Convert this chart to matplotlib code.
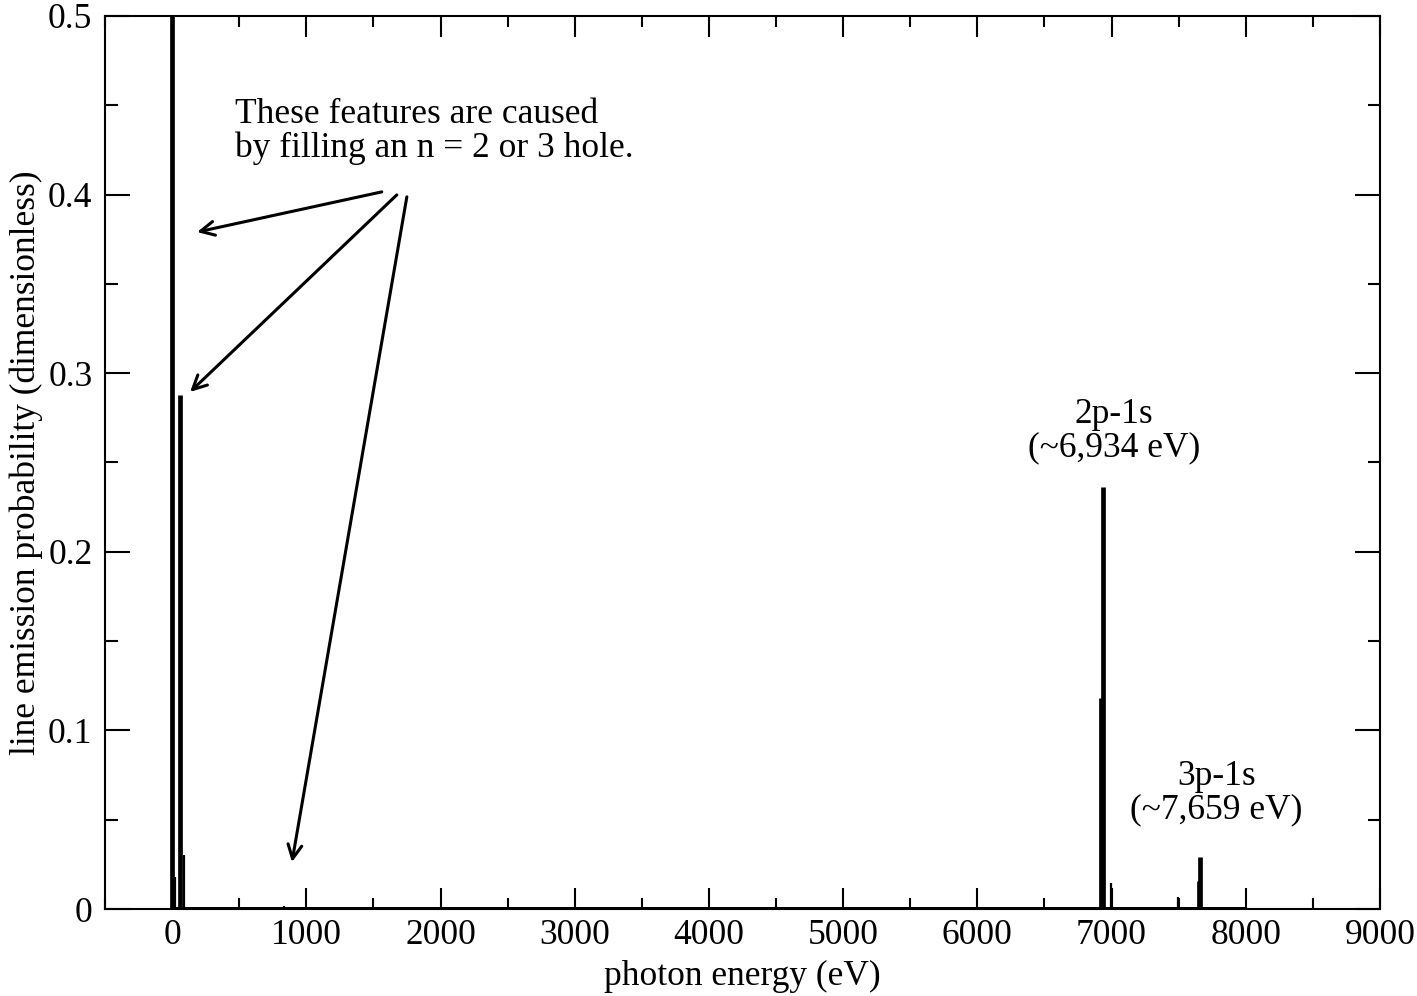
import numpy as np
import matplotlib
matplotlib.use("Agg")
import matplotlib.pyplot as plt
from matplotlib.ticker import MultipleLocator

plt.rcParams["font.family"] = ["Liberation Serif", "DejaVu Serif"]

# strong emission lines (eV, probability)
strong_energy = [0, 62, 6918, 6934, 7648, 7659]
strong_prob = [0.60, 0.288, 0.118, 0.236, 0.0157, 0.029]
# weak satellite lines
weak_energy = [25, 85, 800, 830, 6994, 7493]
weak_prob = [0.018, 0.030, 0.0012, 0.0015, 0.0145, 0.007]
baseline_range = [0, 8000]

annot_text = "These features are caused\nby filling an n = 2 or 3 hole."
# arrows: (tail x, tail y, head x, head y)
arrow_tails = [(1562, 0.4015), (1674, 0.3998), (1749, 0.3987)]
arrow_heads = [(186, 0.379), (134, 0.2895), (893, 0.0263)]

FS = 25.5

fig = plt.figure(figsize=(14.17, 9.96), dpi=100)
ax = fig.add_axes([0.0741, 0.0873, 0.9739 - 0.0741, 0.984 - 0.0873])

ax.plot(baseline_range, [0, 0], color="black", lw=3.6, solid_capstyle="butt", zorder=3)
ax.vlines(strong_energy, 0, strong_prob, color="black", lw=3.4, zorder=3)
ax.vlines(weak_energy, 0, weak_prob, color="black", lw=1.6, zorder=3)

ax.set_xlim(-500, 9000)
ax.set_ylim(0, 0.5)
ax.xaxis.set_major_locator(MultipleLocator(1000))
ax.xaxis.set_minor_locator(MultipleLocator(500))
ax.yaxis.set_major_locator(MultipleLocator(0.1))
ax.yaxis.set_minor_locator(MultipleLocator(0.05))
ax.xaxis.set_major_formatter(plt.FuncFormatter(lambda v, p: f"{v:.0f}"))
ax.yaxis.set_major_formatter(plt.FuncFormatter(lambda v, p: "0" if v == 0 else f"{v:.1f}"))

for s in ax.spines.values():
    s.set_linewidth(1.5)
ax.tick_params(which="both", direction="in", top=True, right=True, width=1.5,
               labelsize=FS)
ax.tick_params(axis="x", which="major", length=15, pad=7)
ax.tick_params(axis="x", which="minor", length=8)
ax.tick_params(axis="y", which="major", length=18, pad=9)
ax.tick_params(axis="y", which="minor", length=9)

ax.set_xlabel("photon energy (eV)", fontsize=FS, labelpad=6)
ax.set_ylabel("line emission probability (dimensionless)", fontsize=FS, labelpad=4)

ax.text(469, 0.4355, annot_text, fontsize=FS, ha="left", va="center", linespacing=1.03)
for (tx, ty), (hx, hy) in zip(arrow_tails, arrow_heads):
    ax.annotate("", xy=(hx, hy), xytext=(tx, ty),
                arrowprops=dict(arrowstyle="->", lw=2.2, color="black",
                                mutation_scale=25, shrinkA=0, shrinkB=0))

ax.text(7016, 0.2675, "2p-1s\n(~6,934 eV)", fontsize=FS, ha="center", va="center",
        linespacing=1.03)
ax.text(7783, 0.0648, "3p-1s\n(~7,659 eV)", fontsize=FS, ha="center", va="center",
        linespacing=1.03)

fig.savefig("out.png", dpi=100)
